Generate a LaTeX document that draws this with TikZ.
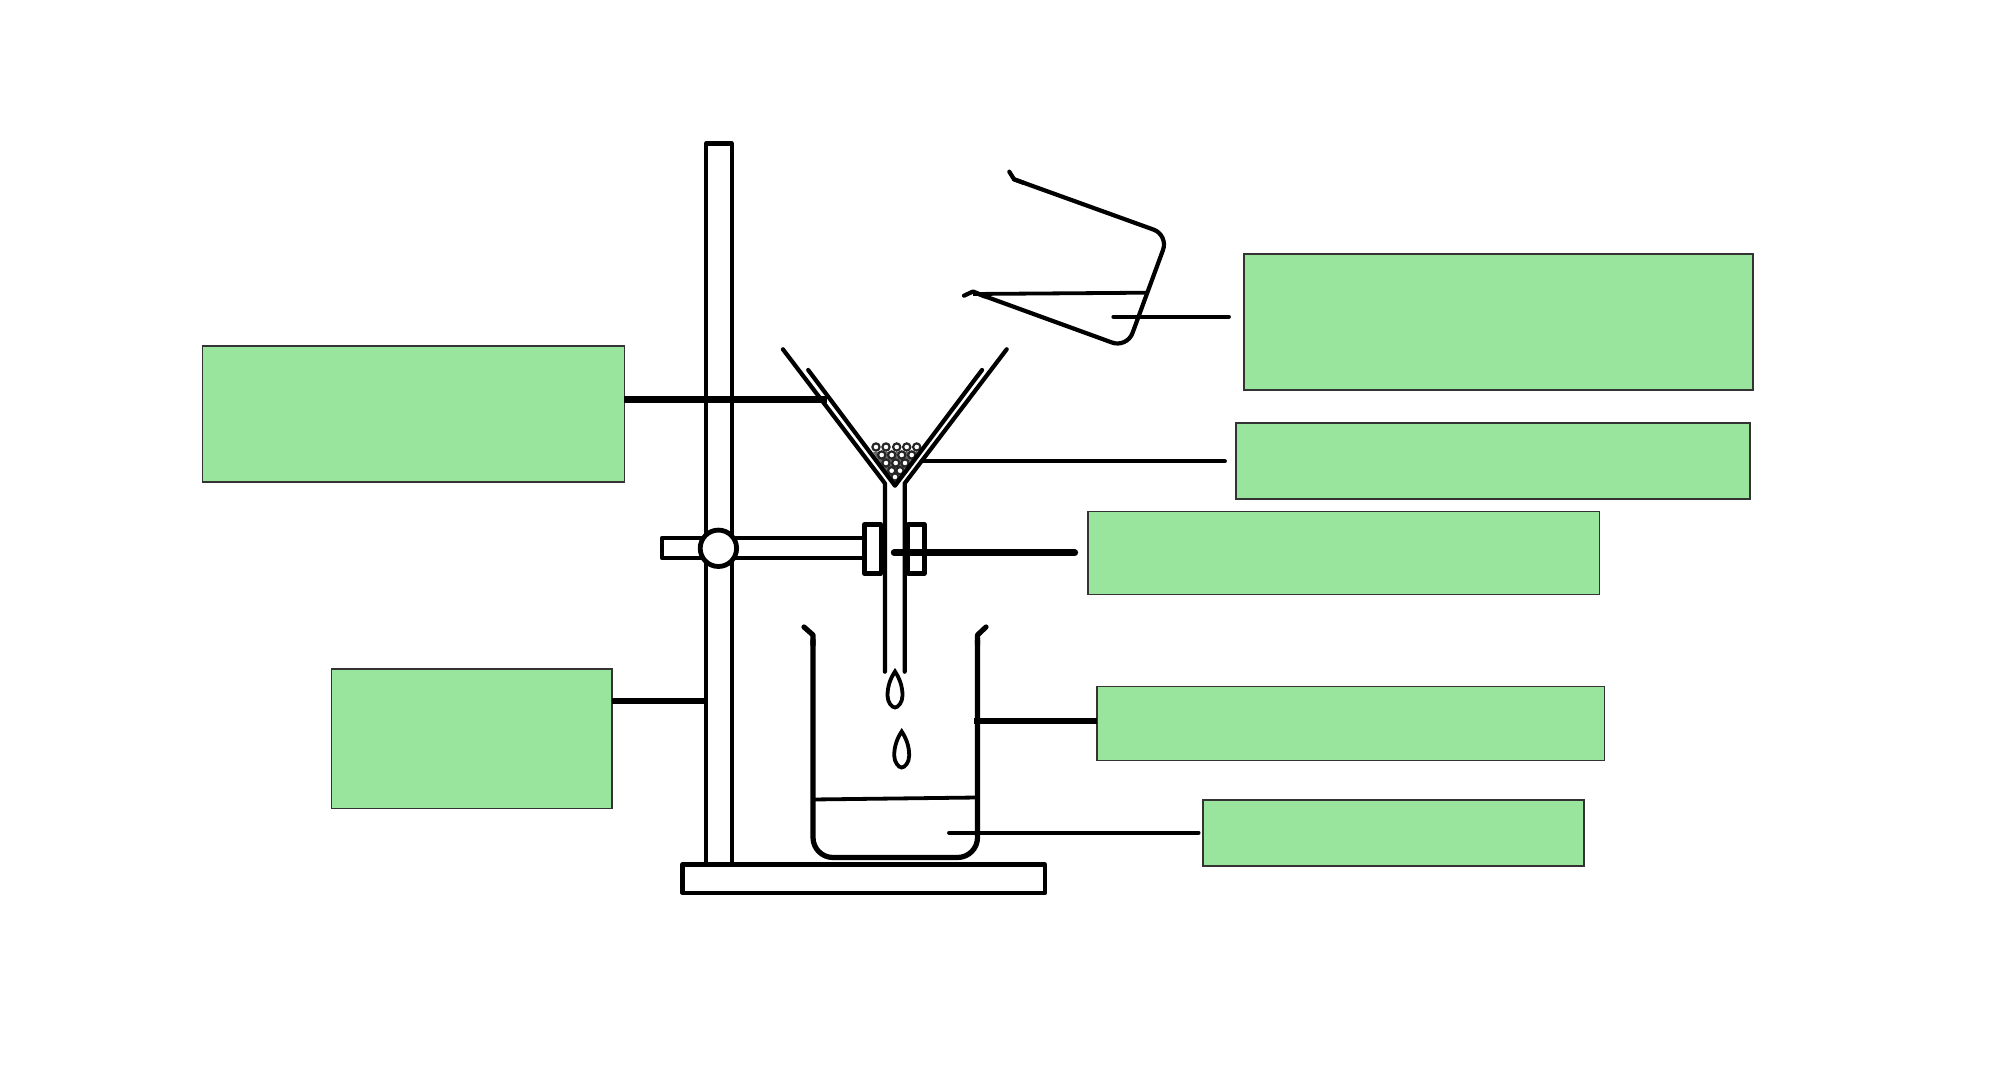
\documentclass[tikz,border=0pt]{standalone}
\definecolor{labelgreen}{RGB}{154,229,158}
\tikzset{
	labelbox/.style={draw=black!80,fill=labelgreen,line width=0.8pt,inner sep=0pt,outer sep=0pt},
	apparatus/.style={line width=2.1pt,line join=round,line cap=round},
	glass/.style={line width=2.6pt,line join=round,line cap=round},
	thinlead/.style={line width=1.9pt,line cap=round},
	thicklead/.style={line width=3.2pt}
}
\begin{document}
\begin{tikzpicture}[x=0.5pt,y=-0.5pt]
	\useasboundingbox (0,0) rectangle (1990,1068);
	% Stand.
	\draw[apparatus] (706,864) -- (706,143.5) -- (731.7,143.5) -- (731.7,864);
	\draw[apparatus] (682.5,864.5) rectangle (1045,893);
	% Clamp.
	\draw[apparatus] (864.5,538) -- (662,538) -- (662,558) -- (864.5,558);
	\draw[apparatus] (864.5,524.5) rectangle (881,573.5);
	\draw[apparatus] (908,524.5) rectangle (924.5,573.5);
	\node[circle,draw,fill=white,line width=2.4pt,minimum size=18.2pt,inner sep=0pt] (boss) at (718.4,548.3) {};
	% Funnel.
	\coordinate (funnelL) at (782.9,349.3);
	\coordinate (funnelR) at (1006.7,349.3);
	\coordinate (stemL) at (884.9,483.3);
	\coordinate (stemR) at (904.7,483.3);
	\draw[apparatus] (funnelL) -- (stemL) -- (884.9,671.7);
	\draw[apparatus] (funnelR) -- (stemR) -- (904.7,671.7);
	% Beads of residue.
	\fill[black!60] (873,452) -- (895,485) -- (918,452) -- cycle;
	\foreach \bx/\by in {876/447,886/447,896.7/447,906.7/447,916.7/447,
		881.7/455,891.7/455,901.7/455,911.7/455,
		886/463,895.7/463,905/463,
		891.7/470.7,900/470.7,895/477}
		\draw[line width=1.1pt,black!85,fill=white] (\bx,\by) circle (3.6);
	\draw[apparatus] (808.2,370) -- (895,485.7) -- (982,370);
	% Drops.
	\foreach \dx/\dy in {895/671.5,901.7/731.5}
		\draw[line width=1.9pt] (\dx,\dy) .. controls (\dx+4,\dy+6) and (\dx+7.5,\dy+14) .. (\dx+7.5,\dy+24)
			.. controls (\dx+7.5,\dy+31) and (\dx+3,\dy+36) .. (\dx,\dy+36)
			.. controls (\dx-3,\dy+36) and (\dx-7.5,\dy+31) .. (\dx-7.5,\dy+24)
			.. controls (\dx-7.5,\dy+14) and (\dx-4,\dy+6) .. (\dx,\dy) -- cycle;
	% Lower beaker.
	\draw[glass,rounded corners=10pt] (813,640) -- (813,857.5) -- (977.5,857.5) -- (977.5,640);
	\draw[glass] (804,627) -- (813,635) -- (813,645);
	\draw[glass] (986,627) -- (977.5,635) -- (977.5,645);
	\draw[line width=1.9pt] (813,799.5) -- (977.5,797.5);
	% Upper beaker.
	\draw[apparatus,rounded corners=8pt] (1014,179.3) -- (1168.5,235) -- (1127,348) -- (975,292.7);
	\draw[apparatus] (1009.3,171.7) -- (1014,179.3) -- (1024,183);
	\draw[apparatus] (964,295.7) -- (973,291.5) -- (985,296.5);
	\draw[line width=1.9pt] (973,294) -- (1147,292.7);
	% Leads.
	\coordinate (leadFunnel) at (827,399.5);
	\coordinate (leadStand) at (705,701);
	\coordinate (leadPour) at (1113.3,316.7);
	\coordinate (leadResidue) at (921.6,461.3);
	\coordinate (leadClamp) at (894,552.7);
	\coordinate (leadBeaker) at (974,721);
	\coordinate (leadFiltrate) at (949,832.7);
	% Label boxes.
	\node[labelbox,minimum width=211pt,minimum height=68pt] (boxFunnel) at (413.4,414.2) {};
	\node[labelbox,minimum width=140.25pt,minimum height=69.8pt] (boxStand) at (471.7,738.6) {};
	\node[labelbox,minimum width=254.6pt,minimum height=68pt] (boxPour) at (1498.4,322) {};
	\node[labelbox,minimum width=257pt,minimum height=38.2pt] (boxResidue) at (1493.2,461) {};
	\node[labelbox,minimum width=255.7pt,minimum height=41.6pt] (boxClamp) at (1343.6,553) {};
	\node[labelbox,minimum width=253.55pt,minimum height=37.1pt] (boxBeaker) at (1350.8,723.4) {};
	\node[labelbox,minimum width=190.35pt,minimum height=32.95pt] (boxFiltrate) at (1393.4,832.9) {};
	\draw[thicklead] (boxFunnel.east |- leadFunnel) -- (leadFunnel);
	\draw[thicklead] (boxStand.east |- leadStand) -- (leadStand);
	\draw[thinlead,shorten >=7.4pt] (leadPour) -- (leadPour -| boxPour.west);
	\draw[thinlead,shorten >=5.6pt] (leadResidue) -- (leadResidue -| boxResidue.west);
	\draw[thicklead,line cap=round,shorten >=6.5pt] (leadClamp) -- (leadClamp -| boxClamp.west);
	\draw[thicklead] (leadBeaker) -- (leadBeaker -| boxBeaker.west);
	\draw[thinlead,shorten >=2.2pt] (leadFiltrate) -- (leadFiltrate -| boxFiltrate.west);
\end{tikzpicture}
\end{document}
